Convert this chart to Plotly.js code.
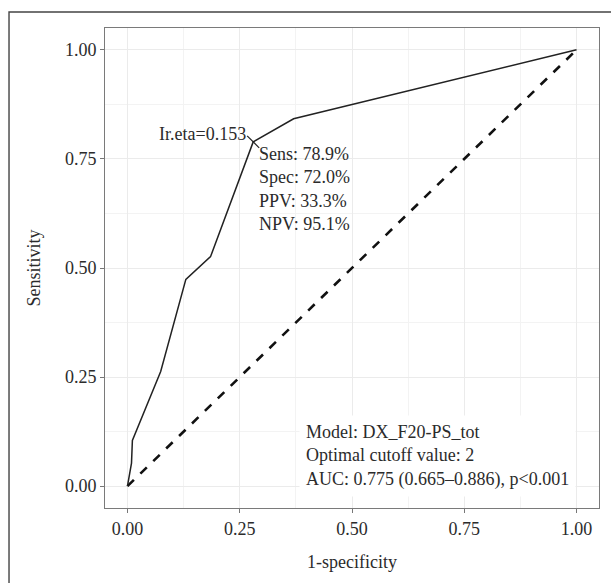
<!DOCTYPE html>
<html>
<head>
<meta charset="utf-8">
<script src="https://cdn.plot.ly/plotly-3.0.1.min.js"></script>
<style>html,body{margin:0;padding:0;background:#fff;}#chart{width:611px;height:583px;}</style>
</head>
<body>
<div id="chart"></div>
<script>
// ROC curve points (1-specificity, sensitivity)
const fpr = [0, 0.009, 0.011, 0.074, 0.130, 0.185, 0.280, 0.370, 1.0];
const tpr = [0, 0.053, 0.105, 0.263, 0.474, 0.526, 0.789, 0.842, 1.0];
// reference diagonal
const diagX = [0, 1];
const diagY = [0, 1];
// optimal cutoff point
const cutX = [0.280];
const cutY = [0.789];
const cutLabel = "Ir.eta=0.153";
const statLines = ["Sens: 78.9%", "Spec: 72.0%", "PPV: 33.3%", "NPV: 95.1%"];
const modelLines = ["Model: DX_F20-PS_tot", "Optimal cutoff value: 2", "AUC: 0.775 (0.665\u20130.886), p<0.001"];
// ticks
const tickVals = [0, 0.25, 0.5, 0.75, 1.0];
const tickText = ["0.00", "0.25", "0.50", "0.75", "1.00"];
const xTitle = "1-specificity";
const yTitle = "Sensitivity";

const FONT = "Liberation Serif, Times New Roman, serif";
const TXT = "#2b2b2b";

const traces = [
  {x: diagX, y: diagY, mode: "lines", line: {color: "#111", width: 2.6, dash: "dash"}, hoverinfo: "skip"},
  {x: fpr, y: tpr, mode: "lines", line: {color: "#222", width: 1.5}, hoverinfo: "skip"},
  {x: cutX, y: cutY, mode: "markers", marker: {symbol: "line-nw", size: 12, color: "#222", line: {color: "#222", width: 1.2}}, hoverinfo: "skip"}
];

const axisCommon = {
  range: [-0.05, 1.05],
  tickvals: tickVals,
  ticktext: tickText,
  ticks: "outside",
  ticklen: 4,
  tickcolor: "#777",
  tickwidth: 1,
  showline: true,
  mirror: true,
  linecolor: "#7a7a7a",
  linewidth: 1,
  showgrid: true,
  gridcolor: "#ebebeb",
  gridwidth: 1,
  zeroline: false,
  minor: {dtick: 0.125, tick0: 0, showgrid: true, gridcolor: "#f3f3f3", gridwidth: 1, ticks: ""},
  tickfont: {family: FONT, size: 18, color: TXT},
  automargin: true,
  fixedrange: true
};

const layout = {
  width: 611, height: 583,
  margin: {l: 105, r: 12, t: 28, b: 75},
  paper_bgcolor: "#fff",
  plot_bgcolor: "#fff",
  showlegend: false,
  font: {family: FONT, size: 18, color: TXT},
  xaxis: Object.assign({}, axisCommon, {title: {text: xTitle, font: {family: FONT, size: 18, color: TXT}, standoff: 17}}),
  yaxis: Object.assign({}, axisCommon, {title: {text: yTitle, font: {family: FONT, size: 18, color: TXT}, standoff: 19}}),
  annotations: [
    {x: cutX[0], y: cutY[0], xref: "x", yref: "y", text: cutLabel, showarrow: false,
     xanchor: "right", yanchor: "middle", xshift: -5, yshift: 8, font: {family: FONT, size: 18, color: TXT}},
    {x: cutX[0], y: cutY[0], xref: "x", yref: "y", text: statLines.join("<br>"), showarrow: false,
     xanchor: "left", yanchor: "middle", align: "left", xshift: 4, yshift: -47, font: {family: FONT, size: 18, color: TXT}},
    {x: 0.4, y: 0.07, xref: "x", yref: "y", text: modelLines.join("<br>"), showarrow: false,
     xanchor: "left", yanchor: "middle", align: "left", xshift: -8, bgcolor: "#fff", borderpad: 6,
     font: {family: FONT, size: 18, color: TXT}}
  ],
  shapes: [
    {type: "path", xref: "paper", yref: "paper",
     path: "M 1.05 1.0333 L -0.1943 1.0333 L -0.1943 -0.2",
     line: {color: "#444", width: 1.4}}
  ]
};

Plotly.newPlot("chart", traces, layout, {displayModeBar: false, staticPlot: true});
</script>
</body>
</html>
